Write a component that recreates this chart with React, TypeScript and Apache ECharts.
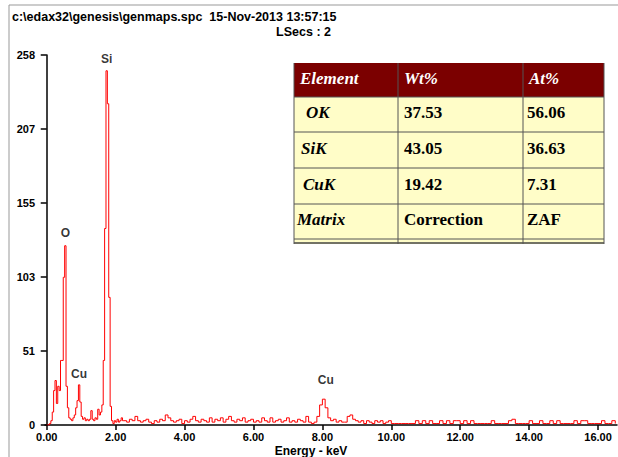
import React, { useEffect, useRef } from "react";
import * as echarts from "echarts";

// ---- data ----
const headerLine1 = "c:\\edax32\\genesis\\genmaps.spc  15-Nov-2013 13:57:15";
const headerLine2 = "LSecs : 2";
const xAxisTitle = "Energy - keV";

const xTickValues = [0, 2, 4, 6, 8, 10, 12, 14, 16];
const yTickValues = [0, 51.6, 103.2, 154.8, 206.4, 258];
const yTickLabels = ["0", "51", "103", "155", "207", "258"];

// channel segments: start energy, channel width (keV), counts
const segAStart = 0;
const segAWidth = 0.04;
const segACounts = [
  0, 0, 1, 3, 9, 24, 31, 15, 27, 24, 45, 45, 103, 125, 27, 12, 5, 4, 3, 5,
  7, 12, 17, 28, 16, 6, 4, 5, 3, 4, 3, 4, 10, 4, 3, 5, 4, 11, 7, 9,
  14, 45, 137, 247, 224, 89, 13, 3, 1, 3, 2, 4, 2, 3, 5, 3,
];
const segBStart = 2.24;
const segBWidth = 0.08;
const segBCounts = [
  3, 2, 4, 3, 6, 3, 2, 3, 4, 2, 1, 3, 2, 4, 3, 7, 5, 3, 2, 3,
  4, 1, 3, 2, 4, 6, 3, 2, 4, 3, 2, 5, 2, 4, 3, 5, 2, 4, 6, 3,
  2, 4, 3, 5, 2, 3, 4, 2, 3, 2, 5, 3, 2, 5, 2, 3, 4, 2, 3, 5,
  2, 3, 2, 4, 3, 2, 6, 2, 1, 2, 6, 14, 18, 12, 5, 3, 4, 2, 3, 2,
  2, 6, 7, 4, 3, 2, 3, 1, 3, 2, 1, 3, 2, 3, 1, 2, 3, 1,
];
const segCStart = 10.1;
const segCWidth = 0.1;
const segCCounts = [
  1, 1, 1, 1, 1, 1, 3, 1, 3, 1, 3, 1, 1, 3, 1, 3, 1, 3, 3, 1,
  3, 1, 3, 1, 1, 1, 1, 1, 3, 1, 1, 1, 1, 3, 4, 1, 1, 1, 1, 3,
  1, 1, 3, 1, 1, 3, 1, 3, 1, 1, 1, 1, 3, 1, 3, 3, 1, 1, 1, 1,
  3, 1, 1, 3, 1,
];

const peakNames = ["Si", "O", "Cu", "Cu"];
const peakEnergies = [1.74, 0.54, 0.94, 8.1];
const peakCounts = [247, 125, 28, 18];

const tableHeader = ["Element", "Wt%", "At%"];
const tableElements = ["OK", "SiK", "CuK", "Matrix"];
const tableWt = ["37.53", "43.05", "19.42", "Correction"];
const tableAt = ["56.06", "36.63", "7.31", "ZAF"];

function buildSpectrum(): number[][] {
  const pts: number[][] = [];
  const add = (start: number, w: number, counts: number[]) => {
    counts.forEach((c, i) => pts.push([+(start + i * w).toFixed(3), c]));
  };
  add(segAStart, segAWidth, segACounts);
  add(segBStart, segBWidth, segBCounts);
  add(segCStart, segCWidth, segCCounts);
  return pts;
}

export default function App() {
  const ref = useRef<HTMLDivElement>(null);

  useEffect(() => {
    if (!ref.current) return;
    const chart = echarts.init(ref.current, null, { renderer: "svg" });

    const labelGaps = [6, 7, 5, 13];
    const peakData = peakNames.map((n, i) => ({
      name: n,
      value: [peakEnergies[i], peakCounts[i]],
      label: { distance: labelGaps[i] },
    }));

    // table geometry
    const tLeft = 294;
    const colX = [294, 398, 523, 604];
    const rowY = [63, 97, 132, 168, 204, 239];
    const serif = "'Liberation Serif', 'Times New Roman', serif";
    const tableEls: any[] = [];
    tableEls.push({
      type: "rect",
      shape: { x: tLeft, y: rowY[0], width: colX[3] - tLeft, height: rowY[1] - rowY[0] },
      style: { fill: "#7b0000" },
    });
    tableEls.push({
      type: "rect",
      shape: { x: tLeft, y: rowY[1], width: colX[3] - tLeft, height: rowY[5] - rowY[1] + 5 },
      style: { fill: "#fffdc8" },
    });
    for (let r = 1; r < rowY.length; r++) {
      tableEls.push({
        type: "line",
        shape: { x1: tLeft, y1: rowY[r], x2: colX[3], y2: rowY[r] },
        style: { stroke: "#555", lineWidth: 1 },
      });
    }
    tableEls.push({
      type: "line",
      shape: { x1: tLeft, y1: rowY[5] + 4, x2: colX[3], y2: rowY[5] + 4 },
      style: { stroke: "#444", lineWidth: 1.5 },
    });
    colX.forEach((x) => {
      tableEls.push({
        type: "line",
        shape: { x1: x, y1: rowY[0], x2: x, y2: rowY[5] + 5 },
        style: { stroke: "#555", lineWidth: 1 },
      });
    });
    tableHeader.forEach((t, i) => {
      tableEls.push({
        type: "text",
        x: colX[i] + 6,
        y: (rowY[0] + rowY[1]) / 2 - 2,
        style: {
          text: t,
          fill: "#ffffff",
          font: `italic bold 17px ${serif}`,
          verticalAlign: "middle",
        },
      });
    });
    const elemIndent = [12, 7, 9, 3];
    tableElements.forEach((t, r) => {
      const cy = (rowY[r + 1] + rowY[r + 2]) / 2 - 2;
      tableEls.push({
        type: "text",
        x: colX[0] + elemIndent[r],
        y: cy,
        style: { text: t, fill: "#000", font: `italic bold 17px ${serif}`, verticalAlign: "middle" },
      });
      tableEls.push({
        type: "text",
        x: colX[1] + 6,
        y: cy,
        style: { text: tableWt[r], fill: "#000", font: `bold 17px ${serif}`, verticalAlign: "middle" },
      });
      tableEls.push({
        type: "text",
        x: colX[2] + 4,
        y: cy,
        style: { text: tableAt[r], fill: "#000", font: `bold 17px ${serif}`, verticalAlign: "middle" },
      });
    });

    const sans = "'Liberation Sans', Arial, sans-serif";

    chart.setOption({
      animation: false,
      backgroundColor: "#ffffff",
      grid: { left: 45, right: 1, top: 55, bottom: 32, containLabel: false },
      xAxis: {
        type: "value",
        min: -0.05,
        max: 16.55,
        splitLine: { show: false },
        axisLine: { lineStyle: { color: "#000", width: 1.5 } },
        axisTick: { customValues: xTickValues, length: 5, lineStyle: { color: "#000", width: 1.5 } },
        axisLabel: {
          customValues: xTickValues,
          formatter: (v: number) => v.toFixed(2),
          color: "#000",
          fontWeight: "bold",
          fontSize: 11,
          fontFamily: sans,
          margin: 6,
        },
      },
      yAxis: {
        type: "value",
        min: 0,
        max: 258,
        splitLine: { show: false },
        axisLine: { show: true, lineStyle: { color: "#000", width: 1.5 } },
        axisTick: { show: true, customValues: yTickValues, length: 6, lineStyle: { color: "#000", width: 1.5 } },
        axisLabel: {
          customValues: yTickValues,
          formatter: (v: number) => {
            const idx = yTickValues.findIndex((t) => Math.abs(t - v) < 0.01);
            return idx >= 0 ? yTickLabels[idx] : "";
          },
          color: "#000",
          fontWeight: "bold",
          fontSize: 11,
          fontFamily: sans,
          margin: 10,
        },
      },
      series: [
        {
          type: "line",
          step: "end",
          data: buildSpectrum(),
          symbol: "none",
          lineStyle: { color: "#ff0000", width: 1 },
          z: 2,
        },
        {
          type: "scatter",
          data: peakData,
          symbolSize: 0,
          label: {
            show: true,
            position: "top",
            formatter: (p: any) => p.name,
            color: "#000",
            fontWeight: "bold",
            fontSize: 12,
            fontFamily: sans,
          },
          z: 3,
        },
      ],
      graphic: [
        {
          type: "line",
          shape: { x1: 9, y1: 5, x2: 618, y2: 5 },
          style: { stroke: "#999", lineWidth: 1 },
        },
        {
          type: "line",
          shape: { x1: 9, y1: 5, x2: 9, y2: 457 },
          style: { stroke: "#999", lineWidth: 1 },
        },
        {
          type: "text",
          x: 12,
          y: 17,
          style: { text: headerLine1, fill: "#000", font: `bold 12.5px ${sans}`, verticalAlign: "middle" },
        },
        {
          type: "text",
          x: 331,
          y: 31.5,
          style: { text: headerLine2, fill: "#000", font: `bold 12.5px ${sans}`, align: "right", verticalAlign: "middle" },
        },
        {
          type: "text",
          x: 311,
          y: 451,
          style: { text: xAxisTitle, fill: "#000", font: `bold 12px ${sans}`, align: "center", verticalAlign: "middle" },
        },
        { type: "group", z: 100, children: tableEls },
      ],
    });

    return () => chart.dispose();
  }, []);

  return (
    <div
      ref={ref}
      style={{ position: "fixed", left: 0, top: 0, width: 618, height: 457 }}
    />
  );
}
